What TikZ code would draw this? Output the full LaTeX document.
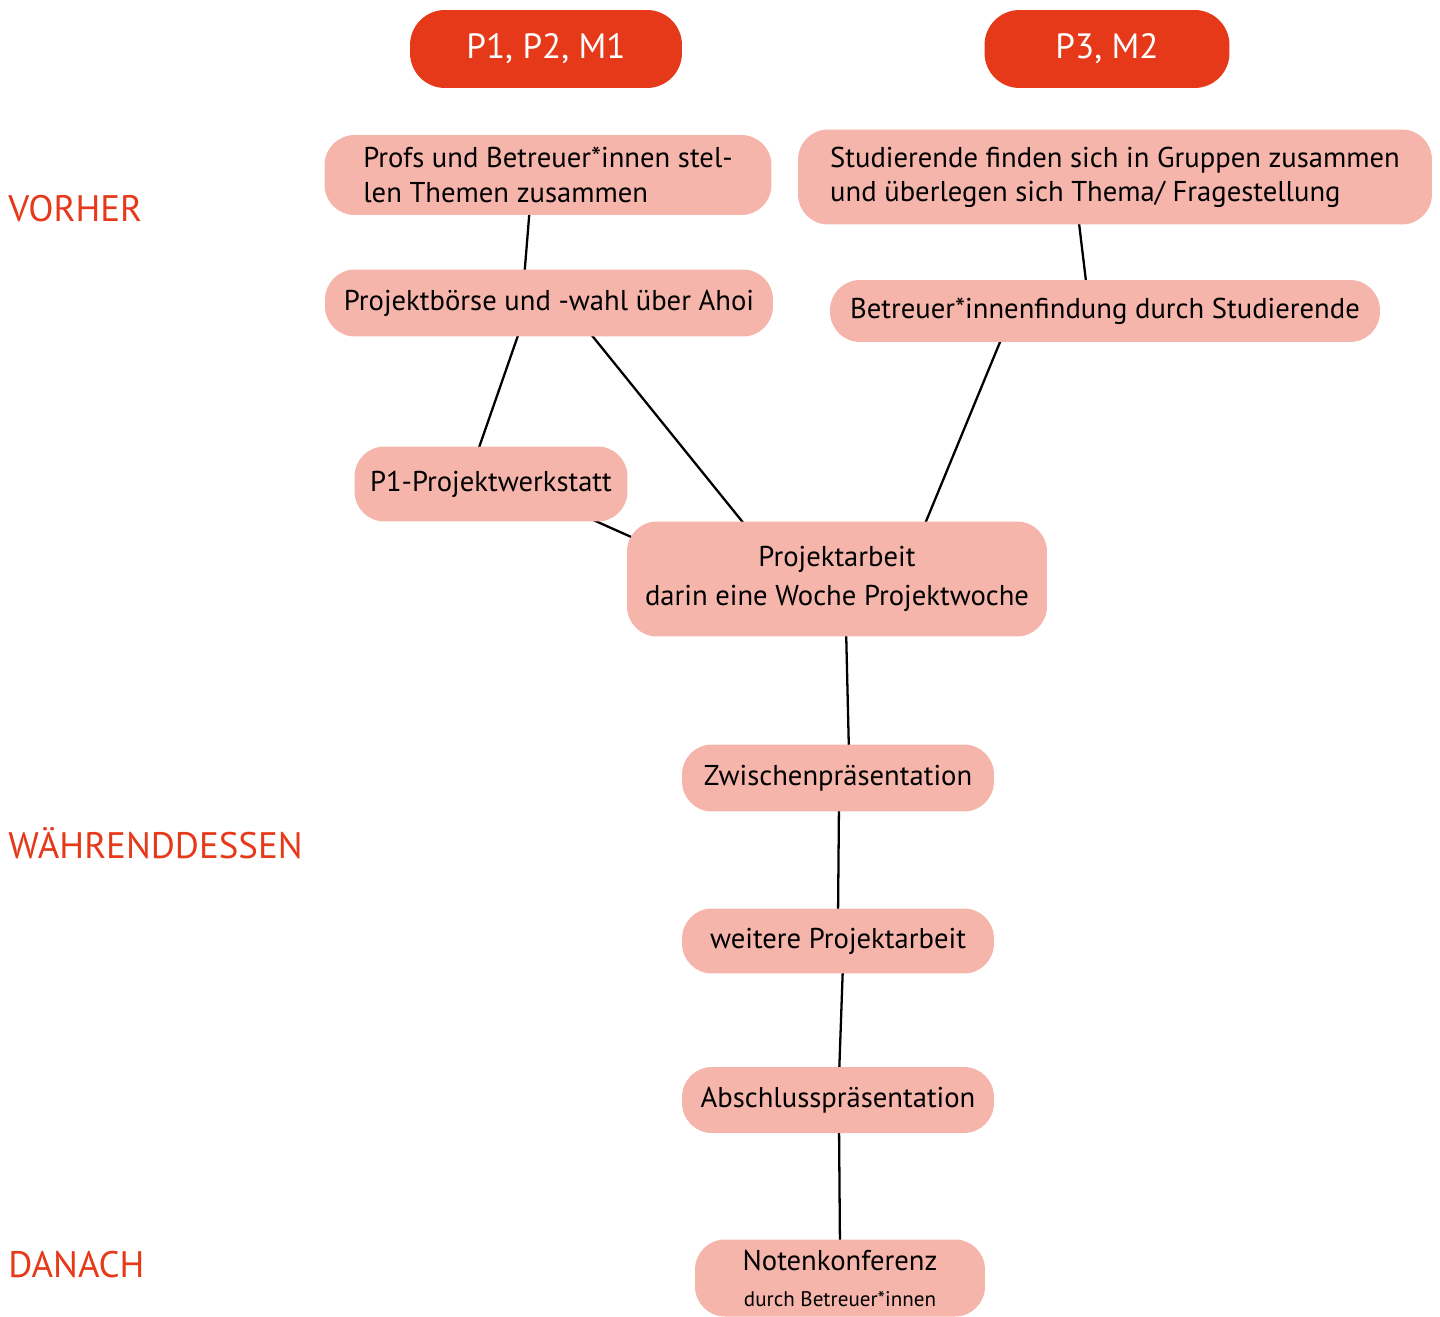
\documentclass[tikz,border=0pt]{standalone}
\usepackage{fontspec}
\setmainfont{PT Sans}
\usetikzlibrary{positioning, backgrounds}
\definecolor{headred}{HTML}{E5391A}
\definecolor{blobpink}{HTML}{F5B5AB}

\begin{document}
\begin{tikzpicture}[x=0.02cm, y=-0.02cm,
    head/.style={rectangle, fill=headred, text=white, rounded corners=0.7cm, inner sep=0pt, font=\fontsize{20}{24}\selectfont},
    blob/.style={rectangle, fill=blobpink, rounded corners=0.6cm, inner sep=0pt, align=center, font=\fontsize{16.3}{19.5}\selectfont},
    phase/.style={anchor=west, text=headred, inner sep=0pt, font=\fontsize{21}{25}\selectfont},
    link/.style={line width=1.3pt}]
    \useasboundingbox (0,0) rectangle (1440,1317);

    % Headers
    \node [head, minimum width=5.44cm, minimum height=1.56cm] (pone) at (546,49) {P1, P2, M1};
    \node [head, minimum width=4.9cm, minimum height=1.56cm] (pthree) at (1107,49) {P3, M2};

    % Phases
    \node [phase] (vorher) at (8,209) {VORHER};
    \node [phase] (waehrend) at (8,843) {WÄHRENDDESSEN};
    \node [phase] (danach) at (8,1265) {DANACH};

    % Left branch
    \node [blob, align=left, minimum width=8.94cm, minimum height=1.6cm] (profs) at (548,175) {Profs und Betreuer*innen stel-\\len Themen zusammen};
    \node [blob, minimum width=8.96cm, minimum height=1.34cm] (boerse) at (549,303) {Projektbörse und -wahl über Ahoi};
    \node [blob, minimum width=5.46cm, minimum height=1.5cm] (werkstatt) at (491,484) {P1-Projektwerkstatt};

    % Right branch
    \node [blob, align=left, minimum width=12.68cm, minimum height=1.9cm] (studis) at (1115,177) {Studierende finden sich in Gruppen zusammen\\und überlegen sich Thema/ Fragestellung};
    \node [blob, minimum width=11cm, minimum height=1.24cm] (betreuer) at (1105,311) {Betreuer*innenfindung durch Studierende};

    % Main column
    \node [blob, minimum width=8.4cm, minimum height=2.3cm] (projekt) at (837,579) {Projektarbeit\\[3pt]darin eine Woche Projektwoche};
    \node [blob, minimum width=6.24cm, minimum height=1.34cm] (zwischen) at (838,778) {Zwischenpräsentation};
    \node [blob, minimum width=6.24cm, minimum height=1.3cm] (weitere) at (838,941) {weitere Projektarbeit};
    \node [blob, minimum width=6.24cm, minimum height=1.32cm] (abschluss) at (838,1100) {Abschlusspräsentation};
    \node [blob, minimum width=5.8cm, minimum height=1.54cm] (noten) at (840,1278) {Notenkonferenz\\[1pt]{\fontsize{12}{14}\selectfont durch Betreuer*innen}};

    % Lines
    \begin{pgfonlayer}{background}
    \draw [link] ([xshift=-0.36cm, yshift=0.2cm]profs.south) -- ([xshift=-0.5cm, yshift=-0.2cm]boerse.north);
    \draw [link] ([xshift=-0.56cm, yshift=0.2cm]boerse.south) -- ([xshift=-0.3cm, yshift=-0.2cm]werkstatt.north);
    \draw [link] ([xshift=0.72cm, yshift=0.2cm]boerse.south) -- ([xshift=-1.74cm, yshift=-0.2cm]projekt.north);
    \draw [link] ([xshift=1.68cm, yshift=0.2cm]werkstatt.south) -- ([xshift=0.5cm, yshift=-0.5cm]projekt.north west);
    \draw [link] ([xshift=-0.74cm, yshift=0.2cm]studis.south) -- ([xshift=-0.36cm, yshift=-0.2cm]betreuer.north);
    \draw [link] ([xshift=-2.02cm, yshift=0.2cm]betreuer.south) -- ([xshift=1.7cm, yshift=-0.2cm]projekt.north);
    \draw [link] ([xshift=0.18cm, yshift=0.2cm]projekt.south) -- ([xshift=0.22cm, yshift=-0.2cm]zwischen.north);
    \draw [link] ([xshift=0.02cm, yshift=0.2cm]zwischen.south) -- ([yshift=-0.2cm]weitere.north);
    \draw [link] ([xshift=0.1cm, yshift=0.2cm]weitere.south) -- ([xshift=0.02cm, yshift=-0.2cm]abschluss.north);
    \draw [link] ([xshift=0.02cm, yshift=0.2cm]abschluss.south) -- ([yshift=-0.2cm]noten.north);
    \end{pgfonlayer}

\end{tikzpicture}
\end{document}
